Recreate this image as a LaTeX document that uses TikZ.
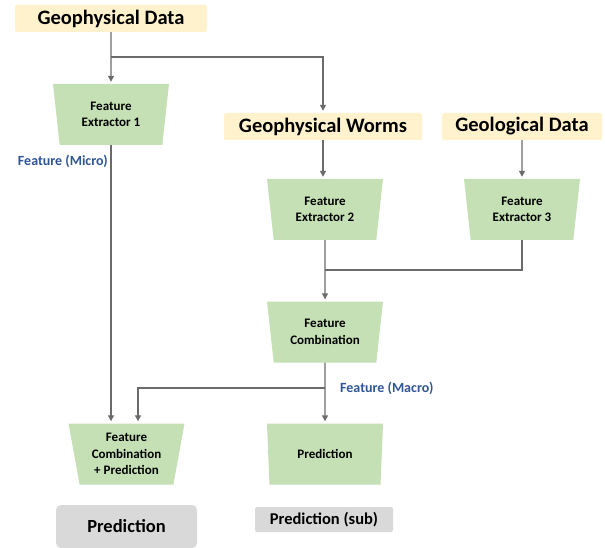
\documentclass[tikz,border=0pt]{standalone}
\usepackage{fontspec}
\setmainfont{Carlito}
\usetikzlibrary{shapes.geometric,arrows.meta}
\definecolor{srcfill}{HTML}{FFF2CC}
\definecolor{trapfill}{HTML}{C5E0B4}
\definecolor{outfill}{HTML}{D9D9D9}
\definecolor{linecol}{HTML}{6B6B6B}
\definecolor{lblcol}{HTML}{2F5597}
\begin{document}
\begin{tikzpicture}[x=1pt,y=-1pt,
  src/.style={fill=srcfill, rounded corners=2pt, minimum height=27pt, inner sep=0pt,
    font=\fontsize{20.5}{22}\selectfont\bfseries},
  trap/.style={trapezium, trapezium angle=75, shape border rotate=180, trapezium stretches body,
    fill=trapfill, minimum width=116pt, minimum height=61pt, inner sep=0pt, align=center,
    font=\fontsize{13}{16.5}\selectfont\bfseries},
  outbig/.style={fill=outfill, rounded corners=5pt, minimum width=141pt, minimum height=43pt, inner sep=0pt,
    font=\fontsize{18.5}{20}\selectfont\bfseries},
  outsmall/.style={fill=outfill, rounded corners=2pt, minimum width=138pt, minimum height=25pt, inner sep=0pt,
    font=\fontsize{16.5}{18}\selectfont\bfseries},
  lbl/.style={text=lblcol, inner sep=1pt, font=\fontsize{14}{16}\selectfont\bfseries},
  wire/.style={draw=linecol, line width=1.3pt},
  arr/.style={wire, -{Triangle[length=6pt,width=6pt]}, shorten >=2pt}
]
\useasboundingbox (0,0) rectangle (605,548);

\node[src, minimum width=192pt] (gd) at (111,18.5) {Geophysical Data};
\node[src, minimum width=198pt] (gw) at (323,126.5) {Geophysical Worms};
\node[src, minimum width=160pt] (geo) at (522,126.5) {Geological Data};

\node[trap] (fe1) at (111,114.5) {Feature\\Extractor 1};
\node[trap] (fe2) at (325,209.5) {Feature\\Extractor 2};
\node[trap] (fe3) at (522,209.5) {Feature\\Extractor 3};
\node[trap] (fc) at (325,332) {Feature\\Combination};
\node[trap] (fcp) at (126.5,454) {Feature\\Combination\\+ Prediction};
\node[trap] (pr) at (325,454) {Prediction};

\node[outbig] (p) at (126.5,526.5) {Prediction};
\node[outsmall] (ps) at (324,519.5) {Prediction (sub)};

\node[lbl, anchor=east] (lmi) at (109,161) {Feature (Micro)};
\node[lbl, anchor=west] (lma) at (339,388) {Feature (Macro)};

\coordinate (j1) at (111,57);
\coordinate (j3) at (325,270);
\coordinate (j2) at (325,388);

\draw[arr] (gd.south) -- (fe1.north);
\draw[arr] (j1) -| (gw.north);
\draw[arr] (gw.south) -- (gw.south |- fe2.north);
\draw[arr] (geo.south) -- (fe3.north);
\draw[wire] (fe3.south) |- (j3);
\draw[arr] (fe2.south) -- (fc.north);
\draw[arr] (fc.south) -- (pr.north);
\draw[arr] (j2) -| ([xshift=11.5pt]fcp.north);
\draw[arr] (fe1.south) -- (fe1.south |- fcp.north);
\end{tikzpicture}
\end{document}
